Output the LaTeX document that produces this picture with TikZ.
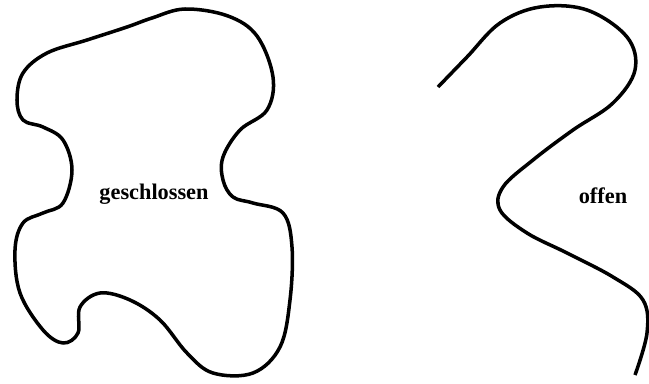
\documentclass[tikz,border=0pt]{standalone}
\usepackage{fontspec}
\setmainfont{Liberation Serif}
\usetikzlibrary{positioning}

\begin{document}
\begin{tikzpicture}[
x=0.02cm,y=-0.02cm,
curve/.style={line width=2pt,line join=round},
lbl/.style={font=\fontsize{12.7}{14}\selectfont\bfseries}]
\useasboundingbox (0,0) rectangle (649,383);
% geschlossene Kurve
\draw[curve] plot[smooth cycle,tension=0.6] coordinates {
(185,9) (228,16) (257,36) (273,77) (267,110) (240,130) (223,157) (223,180)
(233,197) (253,203) (283,213) (292,247) (290,300) (280,347) (253,373)
(213,373) (187,353) (160,320) (130,300) (100,293) (80,307) (78,333)
(63,343) (43,330) (20,293) (15,250) (23,223) (43,213) (63,203)
(72,170) (63,140) (43,127) (23,120) (17,100) (23,73) (47,53)
(87,40) (127,27) (152,18)};
\node[lbl] (closed) at (154,194) {geschlossen};
% offene Kurve
\draw[curve] plot[smooth,tension=0.6] coordinates {
(438,87) (467,57) (500,23) (540,7) (587,10) (627,37) (635,70)
(613,103) (573,130) (533,160) (503,187) (500,210) (527,233)
(567,253) (613,277) (643,300) (647,333) (635,375)};
\node[lbl] (open) at (603,196) {offen};
\end{tikzpicture}
\end{document}
